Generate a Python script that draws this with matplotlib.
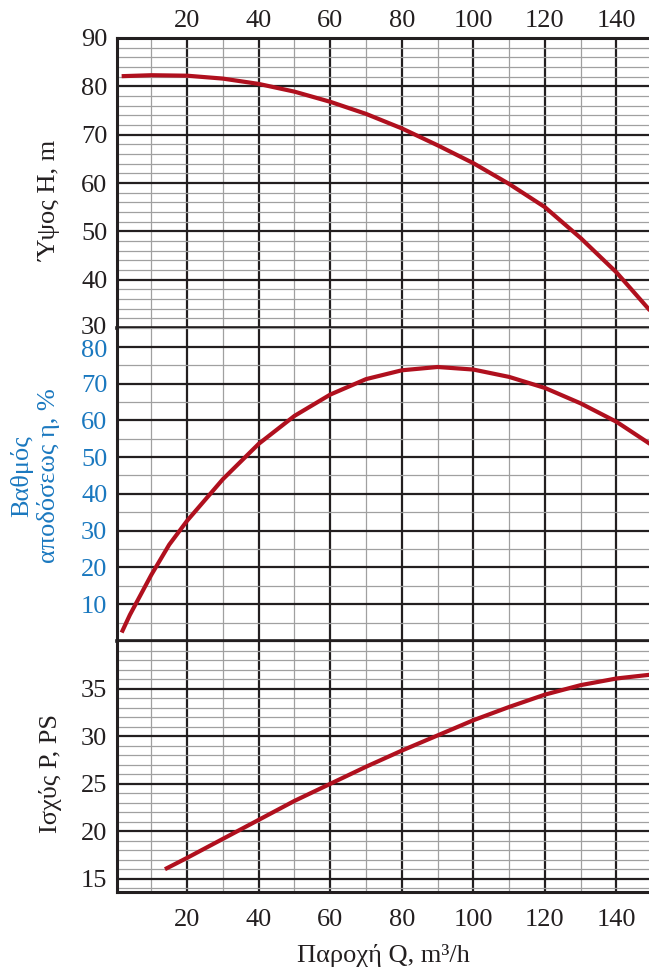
import numpy as np
import matplotlib
matplotlib.use("Agg")
import matplotlib.pyplot as plt
import matplotlib.transforms as mtransforms

plt.rcParams['font.family'] = ['Liberation Serif', 'DejaVu Serif']

# flow rate Q, m3/h -> head H, m
q_head = [1.7, 10, 20, 30, 40, 50, 60, 70, 80, 90, 100, 110, 120, 130, 140,
          149.5]
head = [82.1, 82.3, 82.2, 81.6, 80.5, 78.9, 76.8, 74.3, 71.3, 67.8, 64.1,
        59.8, 55.0, 48.6, 41.5, 33.5]

# flow rate Q -> efficiency, %
q_eff = [1.7, 4, 10, 15, 20, 30, 40, 50, 60, 70, 80, 90, 100, 110, 120, 130,
         140, 149.5]
eff = [2.3, 7.1, 18.0, 26.2, 32.7, 44.0, 53.6, 61.2, 67.0, 71.2, 73.6, 74.5,
       73.8, 71.8, 68.8, 64.6, 59.6, 53.5]

# flow rate Q -> power, PS
q_pow = [13.8, 20, 30, 40, 50, 60, 70, 80, 90, 100, 110, 120, 130, 140, 149.5]
power = [16.0, 17.2, 19.2, 21.2, 23.2, 25.0, 26.8, 28.5, 30.1, 31.7, 33.1,
         34.4, 35.4, 36.1, 36.5]

x_ticks = [20, 40, 60, 80, 100, 120, 140]

red = '#b0101e'
blue = '#1a78bf'
dark = '#231f20'

W, H = 649, 971
fig = plt.figure(figsize=(W / 100, H / 100), dpi=100)


def make_ax(top, bottom):
    return fig.add_axes([117 / W, (H - bottom) / H, (W - 117) / W + 0.01,
                         (bottom - top) / H])


def style(ax, ymaj, ymin):
    ax.set_xlim(0.4, 150.9)
    ax.set_xticks(x_ticks)
    ax.set_xticks(np.arange(10, 151, 20), minor=True)
    ax.set_yticks(ymaj)
    ax.set_yticks(ymin, minor=True)
    ax.grid(which='major', color=dark, lw=1.6)
    ax.grid(which='minor', color='#a0a0a0', lw=0.9)
    ax.set_axisbelow(True)
    ax.tick_params(which='both', length=0, labelsize=19, colors=dark)
    ax.tick_params(axis='y', pad=7)
    for s in ['top', 'bottom', 'right']:
        ax.spines[s].set_visible(False)
    ax.spines['left'].set_linewidth(2.2)
    ax.spines['left'].set_color(dark)


def nudge(label, dy_px):
    off = mtransforms.ScaledTranslation(0, dy_px / 100, fig.dpi_scale_trans)
    label.set_transform(label.get_transform() + off)


line_kw = dict(color=red, lw=3, solid_joinstyle='round', solid_capstyle='butt')

# head
ax1 = make_ax(38, 328)
style(ax1, np.arange(30, 91, 10), np.arange(30, 91, 2))
ax1.set_ylim(30, 90)
ax1.plot(q_head, head, **line_kw)
ax1.xaxis.tick_top()
ax1.tick_params(axis='x', pad=4)
ax1.spines['top'].set_visible(True)
ax1.spines['top'].set_linewidth(2.2)
ax1.spines['bottom'].set_visible(True)
ax1.spines['bottom'].set_linewidth(2.6)
ax1.spines['top'].set_color(dark)
ax1.spines['bottom'].set_color(dark)

# efficiency
ax2 = make_ax(328, 641)
style(ax2, np.arange(0, 81, 10), np.arange(0, 86, 5))
ax2.set_ylim(0, 85.1)
ax2.plot(q_eff, eff, **line_kw)
ax2.set_yticklabels([''] + [str(v) for v in range(10, 81, 10)])
ax2.tick_params(axis='y', labelcolor=blue)
ax2.tick_params(axis='x', labelbottom=False)
ax2.spines['bottom'].set_visible(True)
ax2.spines['bottom'].set_linewidth(2.6)
ax2.spines['bottom'].set_color(dark)

# power
ax3 = make_ax(641, 892)
style(ax3, np.arange(15, 41, 5), np.arange(14, 41, 1))
ax3.set_ylim(13.6, 40.05)
ax3.plot(q_pow, power, **line_kw)
ax3.set_yticklabels([str(v) for v in range(15, 36, 5)] + [''])
ax3.tick_params(axis='x', pad=12)
ax3.spines['bottom'].set_visible(True)
ax3.spines['bottom'].set_linewidth(2.2)
ax3.spines['bottom'].set_color(dark)

# keep the "30" and "80" labels at the panel join apart
nudge(ax1.get_yticklabels()[0], 3)
nudge(ax2.get_yticklabels()[-1], -2)

fig.text(50 / W, 1 - 200 / H, 'Ύψος H, m', rotation=90, ha='center',
         va='center', fontsize=19, color=dark)
fig.text(22 / W, 1 - 476 / H, 'Βαθμός', rotation=90, ha='center',
         va='center', fontsize=19, color=blue)
fig.text(48 / W, 1 - 476 / H, 'αποδόσεως η, %', rotation=90, ha='center',
         va='center', fontsize=19, color=blue)
fig.text(50 / W, 1 - 773 / H, 'Ισχύς P, PS', rotation=90, ha='center',
         va='center', fontsize=19, color=dark)
fig.text(383 / W, 1 - 955 / H, 'Παροχή Q, m³/h', ha='center', va='center',
         fontsize=19, color=dark)

fig.savefig('out.png', dpi=100)
